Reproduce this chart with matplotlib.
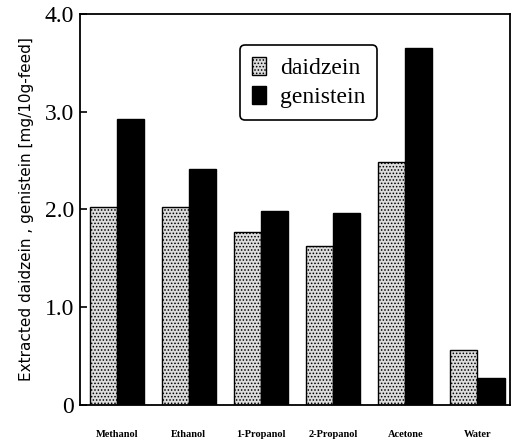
import numpy as np
import matplotlib.pyplot as plt

# Extracted daidzein / genistein per solvent

solvents = ["Methanol", "Ethanol", "1-Propanol", "2-Propanol", "Acetone", "Water"]
daidzein = [2.02, 2.02, 1.77, 1.63, 2.48, 0.56]
genistein = [2.92, 2.41, 1.98, 1.96, 3.65, 0.28]
yticks = [0, 1.0, 2.0, 3.0, 4.0]
ytick_labels = ["0", "1.0", "2.0", "3.0", "4.0"]


def main():
    plt.rcParams['hatch.linewidth'] = 0.7
    plt.rcParams['hatch.color'] = '#444444'
    fig = plt.figure(figsize=(5.12, 4.43), dpi=100)
    ax = fig.add_axes([0.156, 0.086, 0.84, 0.883])

    x = np.arange(len(solvents))
    w = 0.375
    ax.bar(x - w / 2, daidzein, w, facecolor='#dcdcdc', edgecolor='black',
           hatch='.....', linewidth=1.0, label='daidzein')
    ax.bar(x + w / 2, genistein, w, facecolor='black', edgecolor='black',
           linewidth=1.0, label='genistein')

    ax.set_xlim(-0.51, 5.45)
    ax.set_ylim(0, 4.0)
    ax.set_yticks(yticks)
    ax.set_yticklabels(ytick_labels, fontfamily='Liberation Serif', fontsize=17)
    ax.tick_params(axis='y', direction='in', length=5, width=1.2, pad=4)
    ax.set_xticks(x)
    ax.set_xticklabels(solvents, fontfamily='Liberation Serif', fontsize=7.5,
                       fontweight='bold')
    ax.tick_params(axis='x', length=0, pad=18)
    for s in ax.spines.values():
        s.set_linewidth(1.3)

    ax.set_ylabel("Extracted daidzein , genistein [mg/10g-feed]",
                  fontfamily='DejaVu Sans', fontsize=11, labelpad=8)

    leg = ax.legend(loc='upper left', bbox_to_anchor=(0.372, 0.92),
                    borderaxespad=0,
                    prop={'family': 'Liberation Serif', 'size': 17},
                    handlelength=0.6, handleheight=0.8, handletextpad=0.6,
                    borderpad=0.5, labelspacing=0.3, fancybox=True,
                    framealpha=1, edgecolor='black')
    leg.get_frame().set_linewidth(1.2)

    fig.savefig("out.png", dpi=100)


if __name__ == '__main__':
    main()
